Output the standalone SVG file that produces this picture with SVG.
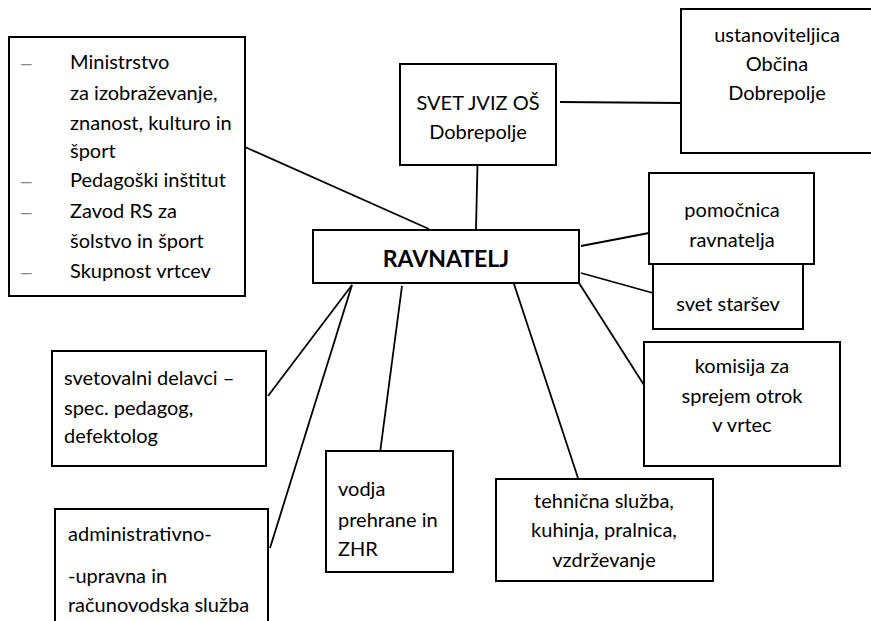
<svg xmlns="http://www.w3.org/2000/svg" width="871" height="621" viewBox="0 0 871 621">
<style>
.box{fill:#fff;stroke:#000;stroke-width:2}
.t{font-family:Lato,"Liberation Sans",sans-serif;font-size:20px;fill:#000}
.c{text-anchor:middle}
.b{font-weight:bold;font-size:23px}
.d{font-family:"Liberation Sans",sans-serif;font-size:19px;fill:#888}
.ln{stroke:#000;stroke-width:1.8;fill:none}
</style>
<rect width="871" height="621" fill="#fff"/>
<g id="connectors">
<line class="ln" x1="245" y1="147" x2="429" y2="229"/>
<line class="ln" x1="478" y1="143" x2="476" y2="229"/>
<line class="ln" x1="560" y1="102" x2="681" y2="103"/>
<line class="ln" x1="581" y1="246" x2="649" y2="233"/>
<line class="ln" x1="581" y1="273" x2="653" y2="293"/>
<line class="ln" x1="352" y1="285" x2="268" y2="396"/>
<line class="ln" x1="352" y1="285" x2="270" y2="548"/>
<line class="ln" x1="402" y1="286" x2="380" y2="453"/>
<line class="ln" x1="514" y1="284" x2="578" y2="478"/>
<line class="ln" x1="579" y1="283" x2="644" y2="385"/>
</g>
<g id="ministrstvo">
<rect class="box" x="9" y="37" width="236" height="259"/>
<text class="d" x="21" y="69">–</text>
<text class="t" x="70" y="69">Ministrstvo</text>
<text class="t" x="70" y="100">za izobraževanje,</text>
<text class="t" x="70" y="130">znanost, kulturo in</text>
<text class="t" x="70" y="158">šport</text>
<text class="d" x="21" y="187">–</text>
<text class="t" x="70" y="187">Pedagoški inštitut</text>
<text class="d" x="21" y="218">–</text>
<text class="t" x="70" y="218">Zavod RS za</text>
<text class="t" x="70" y="248">šolstvo in šport</text>
<text class="d" x="21" y="278">–</text>
<text class="t" x="70" y="278">Skupnost vrtcev</text>
</g>
<g id="svet-jviz">
<rect class="box" x="400" y="64" width="156" height="101"/>
<text class="t c" x="478" y="110">SVET JVIZ OŠ</text>
<text class="t c" x="478" y="139">Dobrepolje</text>
</g>
<g id="ustanoviteljica">
<rect class="box" x="681" y="9" width="200" height="144"/>
<text class="t c" x="777" y="42">ustanoviteljica</text>
<text class="t c" x="777" y="71">Občina</text>
<text class="t c" x="777" y="100">Dobrepolje</text>
</g>
<g id="ravnatelj">
<rect class="box" x="313" y="230" width="266" height="53"/>
<text class="t c b" x="446" y="267">RAVNATELJ</text>
</g>
<g id="svet-starsev">
<rect class="box" x="653" y="264" width="150" height="65"/>
<text class="t c" x="728" y="311">svet staršev</text>
</g>
<g id="pomocnica">
<rect class="box" x="649" y="173" width="165" height="91"/>
<text class="t c" x="732" y="217">pomočnica</text>
<text class="t c" x="732" y="247">ravnatelja</text>
</g>
<g id="komisija">
<rect class="box" x="644" y="342" width="196" height="124"/>
<text class="t c" x="742" y="373">komisija za</text>
<text class="t c" x="742" y="403">sprejem otrok</text>
<text class="t c" x="742" y="432">v vrtec</text>
</g>
<g id="svetovalni">
<rect class="box" x="52" y="351" width="214" height="115"/>
<text class="t" x="64" y="385">svetovalni delavci –</text>
<text class="t" x="64" y="415">spec. pedagog,</text>
<text class="t" x="64" y="443">defektolog</text>
</g>
<g id="administrativno">
<rect class="box" x="55" y="509" width="213" height="130"/>
<text class="t" x="68" y="541">administrativno-</text>
<text class="t" x="68" y="583">-upravna in</text>
<text class="t" x="68" y="612">računovodska služba</text>
</g>
<g id="vodja">
<rect class="box" x="326" y="451" width="127" height="121"/>
<text class="t" x="338" y="496">vodja</text>
<text class="t" x="338" y="527">prehrane in</text>
<text class="t" x="338" y="556">ZHR</text>
</g>
<g id="tehnicna">
<rect class="box" x="496" y="479" width="217" height="102"/>
<text class="t c" x="604" y="508">tehnična služba,</text>
<text class="t c" x="604" y="537">kuhinja, pralnica,</text>
<text class="t c" x="604" y="567">vzdrževanje</text>
</g>
</svg>
